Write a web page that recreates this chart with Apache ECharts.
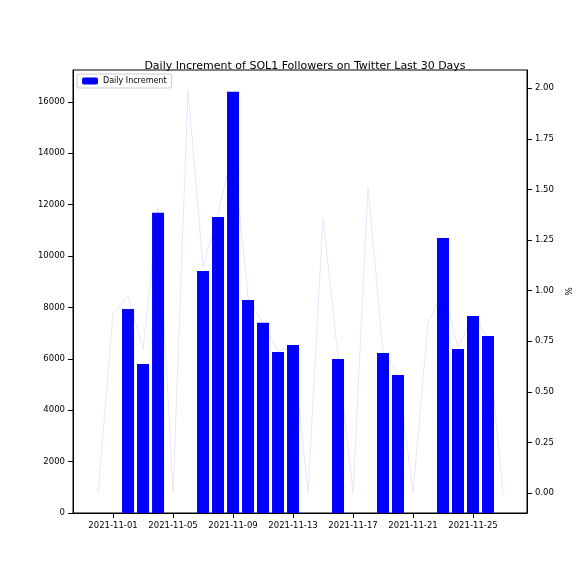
<!DOCTYPE html>
<html><head><meta charset="utf-8">
<script src="https://cdn.jsdelivr.net/npm/echarts@6/dist/echarts.min.js"></script>
<style>html,body{margin:0;padding:0;background:#fff}#c{width:587px;height:587px}</style>
</head><body><div id="c"></div>
<script>
const dates = ['2021-10-31','2021-11-01','2021-11-02','2021-11-03','2021-11-04','2021-11-05','2021-11-06','2021-11-07','2021-11-08','2021-11-09','2021-11-10','2021-11-11','2021-11-12','2021-11-13','2021-11-14','2021-11-15','2021-11-16','2021-11-17','2021-11-18','2021-11-19','2021-11-20','2021-11-21','2021-11-22','2021-11-23','2021-11-24','2021-11-25','2021-11-26','2021-11-27'];
const increments = [0,0,7940,5800,11680,0,0,9420,11520,16390,8290,7400,6270,6540,0,0,5990,0,0,6230,5370,0,0,10700,6380,7670,6890,0];
const percents = [0,0.89,0.97,0.71,1.41,0,1.99,1.12,1.38,1.70,0.97,0.84,0.70,0.72,0,1.36,0.67,0,1.51,0.70,0.59,0,0.84,1.0,0.72,0.87,0.77,0];
const tickIdx = [1,5,9,13,17,21,25];
const leftTicks = [0,2000,4000,6000,8000,10000,12000,14000,16000];
const rightTicks = [0,0.25,0.5,0.75,1.0,1.25,1.5,1.75,2.0];

const font = 'DejaVu Sans';
const chart = echarts.init(document.getElementById('c'));
chart.setOption({
  animation:false,
  textStyle:{fontFamily:font},
  title:{text:'Daily Increment of SOL1 Followers on Twitter Last 30 Days',left:300,top:56,textAlign:'center',textStyle:{fontSize:11,fontWeight:'normal',color:'#000',fontFamily:font}},
  legend:{data:['Daily Increment'],left:77,top:74,orient:'vertical',itemWidth:16,itemHeight:7,borderColor:'#ccc',borderWidth:1,borderRadius:2,padding:[3,5],textStyle:{fontSize:8,color:'#000'}},
  grid:{left:73,right:60,top:70,bottom:74},
  xAxis:{type:'value',min:-1.67,max:28.6,
    axisLine:{onZero:false,lineStyle:{color:'#000'}},splitLine:{show:false},
    axisTick:{customValues:tickIdx,lineStyle:{color:'#000'}},
    axisLabel:{customValues:tickIdx,fontSize:8.5,color:'#000',formatter:v=>dates[Math.round(v)]}},
  yAxis:[
    {type:'value',min:0,max:17240,position:'left',splitLine:{show:false},
     axisLine:{show:true,onZero:false,lineStyle:{color:'#000'}},
     axisTick:{show:true,customValues:leftTicks,lineStyle:{color:'#000'}},
     axisLabel:{customValues:leftTicks,fontSize:8.5,color:'#000',formatter:v=>String(v)}},
    {type:'value',min:-0.099,max:2.09,position:'right',splitLine:{show:false},name:'%',nameLocation:'middle',nameGap:36,nameRotate:90,nameTextStyle:{fontSize:9,color:'#000'},
     axisLine:{show:true,onZero:false,lineStyle:{color:'#000'}},
     axisTick:{show:true,customValues:rightTicks,lineStyle:{color:'#000'}},
     axisLabel:{customValues:rightTicks,fontSize:8.5,color:'#000',formatter:v=>v.toFixed(2)}}
  ],
  series:[
    {name:'Daily Increment',type:'bar',yAxisIndex:0,z:3,barWidth:12,itemStyle:{color:'#0000ff'},
     data:increments.map((v,i)=>[i,v])},
    {name:'pct',type:'line',yAxisIndex:1,symbol:'none',z:1,lineStyle:{color:'#e6e6fa',width:1},
     data:percents.map((v,i)=>[i,v])}
  ],
  graphic:[{type:'rect',shape:{x:73,y:70,width:454,height:443},style:{fill:'none',stroke:'#000',lineWidth:1},silent:true}]
});
</script></body></html>
